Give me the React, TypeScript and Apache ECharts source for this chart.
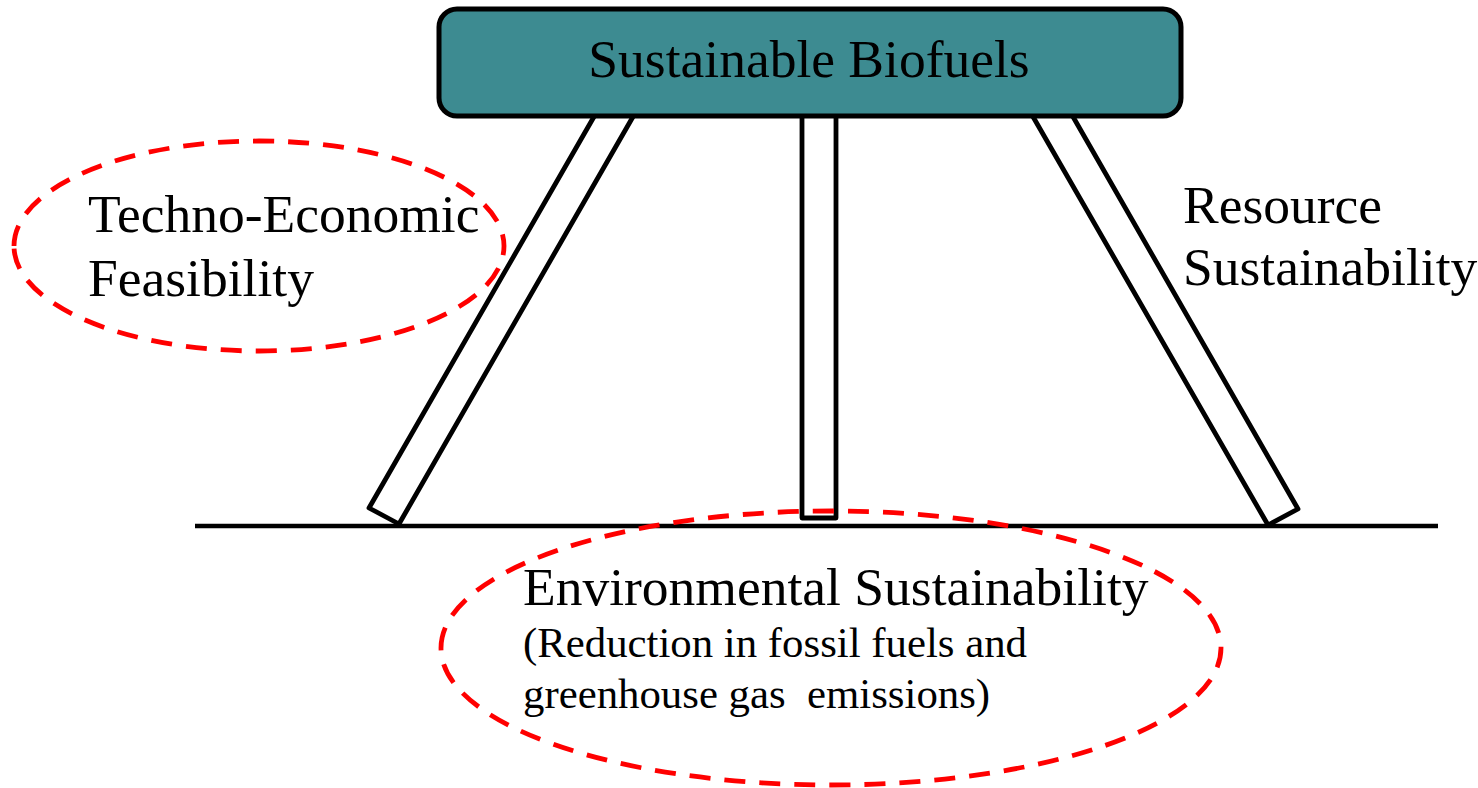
import React, { useEffect, useRef } from "react";
import * as echarts from "echarts";

const titleText = ["Sustainable Biofuels"];
const leftLabel = ["Techno-Economic", "Feasibility"];
const rightLabel = ["Resource", "Sustainability"];
const bottomLabel = ["Environmental Sustainability"];
const bottomSubLabel = ["(Reduction in fossil fuels and", "greenhouse gas  emissions)"];

const FONT = "'Liberation Serif', 'Times New Roman', serif";

export default function App() {
  const ref = useRef<HTMLDivElement>(null);
  useEffect(() => {
    document.body.style.margin = "0";
    const chart = echarts.init(ref.current!, null, { renderer: "svg", width: 1478, height: 788 });
    const stroke = { stroke: "#000", lineWidth: 4.8, lineJoin: "round" as const };
    const dash = { fill: "none", stroke: "#ff0000", lineWidth: 4.8, lineDash: [21, 14] };
    const txt = (t: string, x: number, y: number, size: number, align = "left") => ({
      type: "text",
      x,
      y,
      z: 10,
      style: {
        text: t,
        font: `${size}px ${FONT}`,
        fill: "#000",
        align,
        verticalAlign: "middle",
      },
    });
    const elements: any[] = [
      {
        type: "polygon",
        z: 1,
        shape: { points: [[599, 108], [638, 108], [399, 524], [369, 508]] },
        style: { fill: "#fff", ...stroke },
      },
      {
        type: "rect",
        z: 1,
        shape: { x: 802, y: 105, width: 34, height: 413 },
        style: { fill: "#fff", ...stroke },
      },
      {
        type: "polygon",
        z: 1,
        shape: { points: [[1028, 108], [1068, 108], [1298, 509], [1268, 525]] },
        style: { fill: "#fff", ...stroke },
      },
      {
        type: "line",
        z: 2,
        shape: { x1: 195, y1: 526, x2: 1438, y2: 526 },
        style: { stroke: "#000", lineWidth: 4.5 },
      },
      {
        type: "rect",
        z: 3,
        shape: { x: 439, y: 9, width: 742, height: 107, r: 18 },
        style: { fill: "#3d8b91", stroke: "#000", lineWidth: 5 },
      },
      {
        type: "ellipse",
        z: 5,
        shape: { cx: 259, cy: 246, rx: 245, ry: 105 },
        style: dash,
      },
      {
        type: "ellipse",
        z: 5,
        shape: { cx: 831, cy: 648, rx: 390, ry: 137 },
        style: dash,
      },
      txt(titleText[0], 809, 59, 53.5, "center"),
      txt(leftLabel[0], 88, 214, 53.5),
      txt(leftLabel[1], 88, 278, 53.5),
      txt(rightLabel[0], 1183, 205, 53.5),
      txt(rightLabel[1], 1183, 267, 53.5),
      txt(bottomLabel[0], 523, 587, 53.5),
      txt(bottomSubLabel[0], 523, 642, 42.8),
      txt(bottomSubLabel[1], 523, 693, 42.8),
    ];
    chart.setOption({
      animation: false,
      backgroundColor: "#fff",
      graphic: { elements },
    });
    return () => chart.dispose();
  }, []);
  return (
    <div
      ref={ref}
      style={{ position: "absolute", left: 0, top: 0, width: 1478, height: 788 }}
    />
  );
}
